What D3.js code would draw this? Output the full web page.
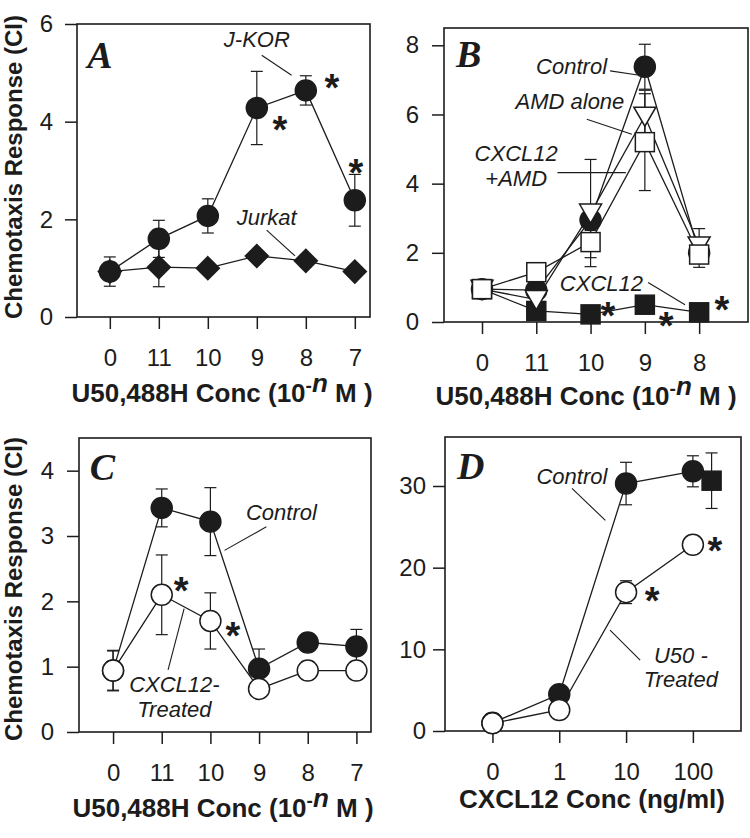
<!DOCTYPE html>
<html><head><meta charset="utf-8">
<script src="https://cdn.jsdelivr.net/npm/d3@7"></script>
<style>body{margin:0;background:#fff}svg{display:block}</style>
</head><body>
<script>
// ---------- DATA ----------
const catsA = ["0","11","10","9","8","7"];
const jkorA = [0.93, 1.6, 2.07, 4.28, 4.64, 2.39];
const jkorErrA = [0.3, 0.38, 0.35, 0.75, 0.3, 0.53];
const jurkatA = [0.93, 1.02, 1.0, 1.25, 1.15, 0.93];
const jurkatErrA = [0.1, 0.4, 0.1, 0.1, 0.12, 0.08];

const catsB = ["0","11","10","9","8"];
const controlB = [0.95, 0.92, 2.95, 7.38, 2.0];
const controlErrB = [0.15, 0.15, 0.3, 0.65, 0.2];
const amdB = [0.95, 0.65, 3.15, 5.95, 2.2];
const amdErrB = [0.15, 0.15, 1.55, 0.75, 0.5];
const cxclAmdB = [0.95, 1.44, 2.31, 5.2, 1.95];
const cxclAmdErrB = [0.25, 0.22, 0.45, 1.4, 0.37];
const cxclB = [0.95, 0.32, 0.22, 0.5, 0.28];
const cxclErrB = [0.1, 0.05, 0.05, 0.05, 0.05];

const catsC = ["0","11","10","9","8","7"];
const controlC = [0.94, 3.43, 3.22, 0.97, 1.37, 1.31];
const controlErrC = [0.3, 0.29, 0.52, 0.3, 0.1, 0.26];
const treatedC = [0.94, 2.1, 1.7, 0.66, 0.94, 0.94];
const treatedErrC = [0.31, 0.61, 0.43, 0.1, 0.1, 0.1];

const catsD = ["0","1","10","100"];
const controlD = [1.0, 4.5, 30.3, 31.8];
const controlErrD = [0.3, 0.5, 2.6, 1.9];
const u50D = [0.94, 2.57, 17.0, 22.8];
const u50ErrD = [0.3, 0.4, 1.4, 0.5];
const extraXD = [3.28];
const extraD = [30.65];
const extraErrD = [3.4];

const yTicksA = [0,2,4,6], yTicksB = [0,2,4,6,8], yTicksC = [0,1,2,3,4], yTicksD = [0,10,20,30];

// ---------- DRAW ----------
const INK = "#1c1c1c";
const FONT = "Liberation Sans, Arial, sans-serif";
const svg = d3.select("body").append("svg").attr("width",750).attr("height",838);

function panel(cfg){
  const [l,t,r,b] = cfg.box;
  const x = d3.scaleLinear().domain(cfg.xDomain).range([l,r]);
  const y = d3.scaleLinear().domain(cfg.yDomain).range([b,t]);
  const g = svg.append("g");
  const xa = g.append("g").attr("transform",`translate(0,${b})`)
    .call(d3.axisBottom(x).tickValues(d3.range(cfg.cats.length)).tickFormat(i=>cfg.cats[i]).tickSize(12).tickPadding(20).tickSizeOuter(0));
  const ya = g.append("g").attr("transform",`translate(${l},0)`)
    .call(d3.axisLeft(y).tickValues(cfg.yTicks).tickFormat(d3.format("d")).tickSize(12).tickPadding(cfg.yPad).tickSizeOuter(0));
  [xa,ya].forEach(a=>{
    a.select(".domain").remove();
    a.selectAll("line").attr("stroke",INK).attr("stroke-width",1.5);
    a.selectAll("text").attr("font-family",FONT).attr("font-size",24).attr("fill",INK);
  });
  g.append("rect").attr("x",l).attr("y",t).attr("width",r-l).attr("height",b-t)
    .attr("fill","none").attr("stroke",INK).attr("stroke-width",1.6);
  g.append("text").attr("x",x(cfg.letterPos[0])).attr("y",y(cfg.letterPos[1]))
    .attr("font-family","Liberation Serif, Times New Roman, serif").attr("font-weight","bold").attr("font-style","italic")
    .attr("font-size",38).attr("fill",INK).text(cfg.letter);
  return {g,x,y};
}

function series(p, xs, vals, errs){
  const {g,x,y} = p;
  const pts = vals.map((v,i)=>({x:xs[i], v, e:errs[i]}));
  g.append("path").datum(pts).attr("fill","none").attr("stroke",INK).attr("stroke-width",1.3)
    .attr("d", d3.line().x(d=>x(d.x)).y(d=>y(d.v)));
  return pts;
}
function errorbars(p, pts){
  const {g,x,y} = p;
  pts.forEach(d=>{
    if(!d.e) return;
    const cx=x(d.x), y1=y(d.v+d.e), y2=y(d.v-d.e);
    g.append("line").attr("x1",cx).attr("x2",cx).attr("y1",y1).attr("y2",y2).attr("stroke",INK).attr("stroke-width",1.2);
    [y1,y2].forEach(yy=>g.append("line").attr("x1",cx-6).attr("x2",cx+6).attr("y1",yy).attr("y2",yy).attr("stroke",INK).attr("stroke-width",1.2));
  });
}
function markers(p, pts, shape, fill){
  const {g,x,y} = p;
  pts.forEach(d=>{
    const cx=x(d.x), cy=y(d.v);
    let el;
    if(shape==="circle"){
      el = g.append("circle").attr("cx",cx).attr("cy",cy).attr("r",10.5);
    } else if(shape==="square"){
      el = g.append("rect").attr("x",cx-9.5).attr("y",cy-9.5).attr("width",19).attr("height",19);
    } else if(shape==="diamond"){
      el = g.append("path").attr("d",`M${cx},${cy-11.5}L${cx+11.5},${cy}L${cx},${cy+11.5}L${cx-11.5},${cy}Z`);
    } else if(shape==="triangleDown"){
      el = g.append("path").attr("d",`M${cx-11},${cy-9}L${cx+11},${cy-9}L${cx},${cy+10}Z`);
    }
    el.attr("fill",fill).attr("stroke",INK).attr("stroke-width",1.5);
  });
}
function label(p, lines, pos, lineH){
  lines.forEach((s,k)=>{
    p.g.append("text").attr("x",p.x(pos[0])).attr("y",p.y(pos[1])+k*lineH).attr("text-anchor","middle")
      .attr("font-family",FONT).attr("font-style","italic").attr("font-size",22)
      .attr("fill",INK).text(s);
  });
}
function leader(p, a, b){
  p.g.append("line").attr("x1",p.x(a[0])).attr("y1",p.y(a[1])).attr("x2",p.x(b[0])).attr("y2",p.y(b[1]))
    .attr("stroke",INK).attr("stroke-width",1.1);
}
function star(p, pos){
  p.g.append("text").attr("x",p.x(pos[0])).attr("y",p.y(pos[1])+21).attr("text-anchor","middle")
    .attr("font-family",FONT).attr("font-weight","bold").attr("font-size",38)
    .attr("fill",INK).text("*");
}
function xTitle(x, yb, parts){
  const t = svg.append("text").attr("x",x).attr("y",yb).attr("text-anchor","middle")
    .attr("font-family",FONT).attr("font-weight","bold").attr("font-size",26).attr("fill",INK);
  parts.forEach(pp=>{
    const ts = t.append("tspan").text(pp.s);
    if(pp.sup){ ts.attr("font-size",19).attr("dy",-10); }
    if(pp.it){ ts.attr("font-style","italic"); }
    if(pp.down){ ts.attr("dy",10); }
  });
}
function yTitle(xb, yc){
  svg.append("text").attr("transform",`translate(${xb},${yc}) rotate(-90)`).attr("text-anchor","middle")
    .attr("font-family",FONT).attr("font-weight","bold").attr("font-size",24)
    .attr("fill",INK).text("Chemotaxis Response (CI)");
}
const u50Title = [{s:"U50,488H Conc (10"},{s:"-",sup:true},{s:"n",it:true},{s:" M )",down:true}];

// Panel A
const pA = panel({box:[77,24,370,317], xDomain:[-0.67,5.31], yDomain:[0,6], yTicks:yTicksA, cats:catsA, yPad:12, letter:"A", letterPos:[-0.46,5.09]});
const idxA = d3.range(catsA.length);
const sA1 = series(pA, idxA, jkorA, jkorErrA), sA2 = series(pA, idxA, jurkatA, jurkatErrA);
errorbars(pA,sA1); errorbars(pA,sA2);
markers(pA,sA2,"diamond",INK); markers(pA,sA1,"circle",INK);
label(pA,["J-KOR"],[3.0,5.52],0); leader(pA,[3.10,5.36],[3.71,4.95]);
label(pA,["Jurkat"],[3.2,1.88],0); leader(pA,[3.2,1.78],[3.78,1.25]);
star(pA,[3.47,3.99]); star(pA,[4.53,4.85]); star(pA,[5.02,3.11]);

// Panel B
const pB = panel({box:[444,28,748,322], xDomain:[-0.7,4.9], yDomain:[0,8.5], yTicks:yTicksB, cats:catsB, yPad:13, letter:"B", letterPos:[-0.48,7.37]});
const idxB = d3.range(catsB.length);
const sB1 = series(pB, idxB, controlB, controlErrB), sB2 = series(pB, idxB, amdB, amdErrB),
      sB3 = series(pB, idxB, cxclAmdB, cxclAmdErrB), sB4 = series(pB, idxB, cxclB, cxclErrB);
[sB1,sB2,sB3,sB4].forEach(s=>errorbars(pB,s));
markers(pB,sB4,"square",INK); markers(pB,sB1,"circle",INK); markers(pB,sB2,"triangleDown","#fff"); markers(pB,sB3,"square","#fff");
label(pB,["Control"],[1.65,7.17],0); leader(pB,[2.36,7.26],[2.87,7.14]);
label(pB,["AMD alone"],[1.62,6.15],0); leader(pB,[1.93,5.86],[2.76,5.43]);
label(pB,["CXCL12","+AMD"],[0.63,4.66],25); leader(pB,[1.39,4.32],[2.65,4.32]);
label(pB,["CXCL12"],[2.2,0.89],0); leader(pB,[3.06,1.14],[3.74,0.5]);
star(pB,[2.32,0.41]); star(pB,[3.39,0.12]); star(pB,[4.42,0.59]);

// Panel C
const pC = panel({box:[79,438,371,732], xDomain:[-0.7,5.3], yDomain:[0,4.5], yTicks:yTicksC, cats:catsC, yPad:13, letter:"C", letterPos:[-0.48,3.86]});
const idxC = d3.range(catsC.length);
const sC1 = series(pC, idxC, controlC, controlErrC), sC2 = series(pC, idxC, treatedC, treatedErrC);
errorbars(pC,sC1); errorbars(pC,sC2);
markers(pC,sC1,"circle",INK); markers(pC,sC2,"circle","#fff");
label(pC,["Control"],[3.46,3.25],0); leader(pC,[3.15,3.14],[2.29,2.78]);
label(pC,["CXCL12-","Treated"],[1.26,0.61],25); leader(pC,[1.13,0.95],[1.46,1.89]);
star(pC,[1.40,2.28]); star(pC,[2.46,1.59]);

// Panel D
const pD = panel({box:[445,437,741,731], xDomain:[-0.71,3.72], yDomain:[0,36], yTicks:yTicksD, cats:catsD, yPad:7, letter:"D", letterPos:[-0.53,30.8]});
const idxD = d3.range(catsD.length);
const sD1 = series(pD, idxD, controlD, controlErrD), sD2 = series(pD, idxD, u50D, u50ErrD);
const sD3 = extraD.map((v,i)=>({x:extraXD[i], v, e:extraErrD[i]}));
errorbars(pD,sD1); errorbars(pD,sD2); errorbars(pD,sD3);
markers(pD,sD1,"circle",INK); markers(pD,sD2,"circle","#fff"); markers(pD,sD3,"square",INK);
label(pD,["Control"],[1.19,30.3],0); leader(pD,[1.19,29.7],[1.69,25.8]);
label(pD,["U50 -","Treated"],[2.82,8.36],24); leader(pD,[2.21,8.69],[1.76,12.36]);
star(pD,[3.33,22.97]); star(pD,[2.39,16.85]);

// Axis titles
xTitle(222,402,u50Title); xTitle(586,405,u50Title); xTitle(223,817,u50Title);
xTitle(592,808,[{s:"CXCL12 Conc (ng/ml)"}]);
yTitle(22,167); yTitle(22,589);
</script>
</body></html>
